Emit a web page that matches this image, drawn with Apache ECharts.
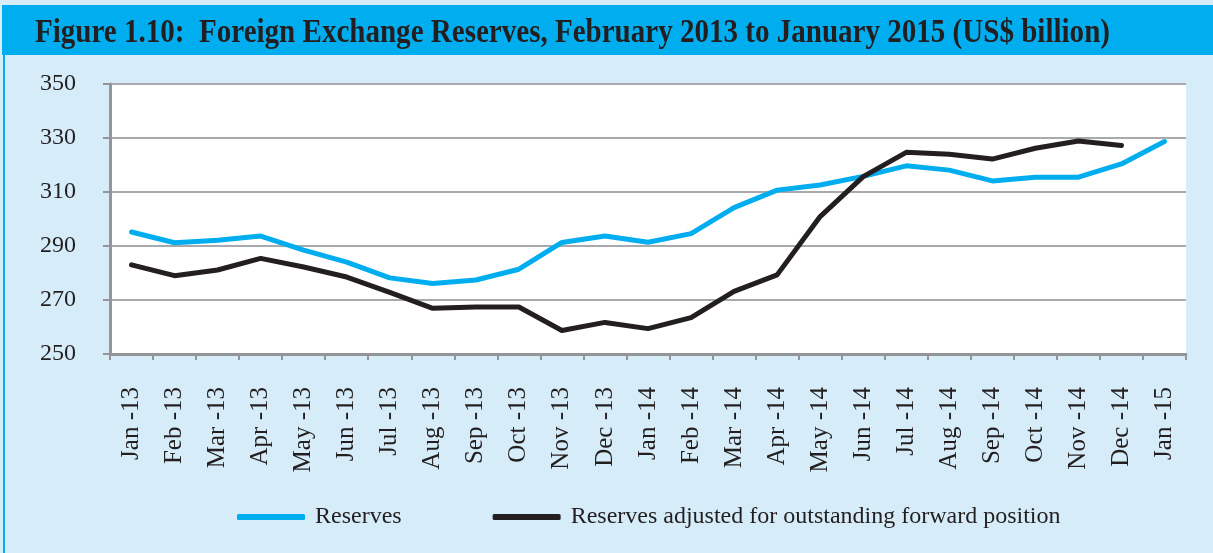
<!DOCTYPE html>
<html>
<head>
<meta charset="utf-8">
<script src="https://cdn.jsdelivr.net/npm/echarts@6/dist/echarts.min.js"></script>
<style>
  html, body { margin: 0; padding: 0; background: #d6edf9; }
  #main { width: 1213px; height: 553px; }
</style>
</head>
<body>
<div id="main"></div>
<script>
var months = ['Jan -13', 'Feb -13', 'Mar -13', 'Apr -13', 'May -13', 'Jun -13', 'Jul -13',
    'Aug -13', 'Sep -13', 'Oct -13', 'Nov -13', 'Dec -13', 'Jan -14', 'Feb -14', 'Mar -14',
    'Apr -14', 'May -14', 'Jun -14', 'Jul -14', 'Aug -14', 'Sep -14', 'Oct -14', 'Nov -14',
    'Dec -14', 'Jan -15'];
var reserves = [295.2, 291.2, 292.1, 293.7, 288.5, 284.0, 278.2, 276.1, 277.4, 281.4, 291.3,
    293.7, 291.4, 294.6, 304.2, 310.7, 312.6, 315.8, 319.7, 318.1, 314.1, 315.5, 315.5,
    320.4, 328.7];
var adjusted = [283.0, 279.0, 281.1, 285.4, 282.2, 278.5, 272.8, 266.9, 267.4, 267.4, 258.7,
    261.7, 259.4, 263.5, 273.2, 279.3, 300.9, 315.7, 324.7, 324.0, 322.2, 326.2, 328.9,
    327.2, null];
var yTicks = { min: 250, max: 350, step: 20 };
var titleText = 'Figure 1.10:  Foreign Exchange Reserves, February 2013 to January 2015 (US$ billion)';

var chart = echarts.init(document.getElementById('main'));
var serif = '"Liberation Serif", "Times New Roman", serif';

var option = {
    backgroundColor: '#d6edf9',
    animation: false,
    graphic: [
        { type: 'rect', left: 2, top: 5, shape: { width: 1211, height: 50 }, style: { fill: '#00aeef' } },
        { type: 'rect', left: 3, top: 55, shape: { width: 2, height: 498 }, style: { fill: '#00aeef' } },
        // title is condensed in the original, so squeeze it horizontally
        {
            type: 'text', x: 35, y: 33, scaleX: 0.88,
            style: {
                text: titleText,
                font: 'bold 33px ' + serif,
                fill: '#231f20',
                verticalAlign: 'middle'
            }
        }
    ],
    grid: {
        left: 110, right: 27, top: 84, bottom: 199,
        show: true, backgroundColor: '#ffffff', borderWidth: 0
    },
    legend: {
        left: 232,
        top: 500,
        icon: 'roundRect',
        itemWidth: 68,
        itemHeight: 6,
        itemGap: 91,
        textStyle: { fontFamily: serif, fontSize: 24, color: '#231f20', padding: [0, 0, 0, 5] },
        data: ['Reserves', 'Reserves adjusted for outstanding forward position']
    },
    xAxis: {
        type: 'category',
        data: months,
        boundaryGap: true,
        axisLine: { lineStyle: { color: '#939598', width: 3 } },
        axisTick: { show: true, length: 6, lineStyle: { color: '#939598', width: 2 } },
        axisLabel: { rotate: 90, margin: 33, fontFamily: serif, fontSize: 25, color: '#231f20' }
    },
    yAxis: {
        type: 'value',
        min: yTicks.min,
        max: yTicks.max,
        interval: yTicks.step,
        axisLine: { show: true, lineStyle: { color: '#939598', width: 3 } },
        axisTick: { show: true, length: 7, lineStyle: { color: '#939598', width: 2 } },
        axisLabel: { margin: 34, fontFamily: serif, fontSize: 24, color: '#231f20' },
        splitLine: { lineStyle: { color: '#a7a9ac', width: 2 } }
    },
    series: [
        {
            name: 'Reserves',
            type: 'line',
            data: reserves,
            symbol: 'none',
            lineStyle: { color: '#00aeef', width: 5, cap: 'round', join: 'round' },
            itemStyle: { color: '#00aeef' }
        },
        {
            name: 'Reserves adjusted for outstanding forward position',
            type: 'line',
            data: adjusted,
            symbol: 'none',
            lineStyle: { color: '#231f20', width: 5, cap: 'round', join: 'round' },
            itemStyle: { color: '#231f20' }
        }
    ]
};

chart.setOption(option);
</script>
</body>
</html>
